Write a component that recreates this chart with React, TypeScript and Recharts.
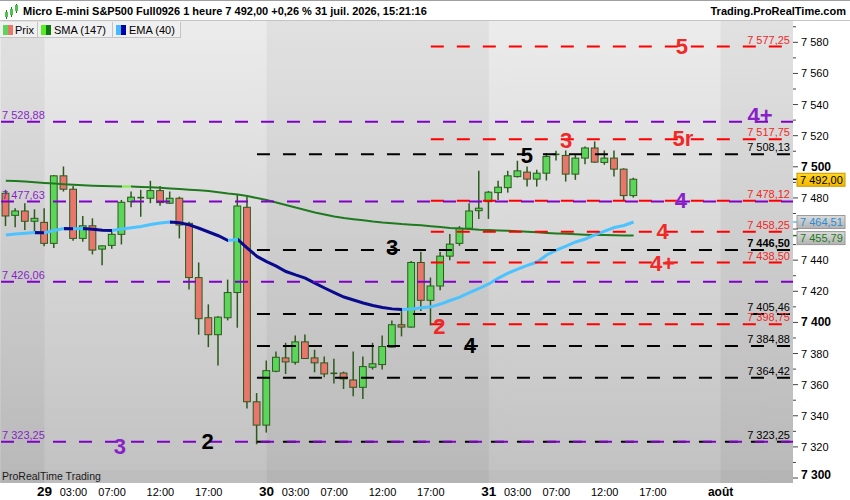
import React from 'react';
import {
  ComposedChart,
  Bar,
  Line,
  XAxis,
  YAxis,
  ReferenceLine,
  ReferenceArea,
  ReferenceDot,
} from 'recharts';

const FONT = '"Liberation Sans", Arial, Helvetica, sans-serif';

// ---- hourly candles (28 juil. 19:00 -> 31 juil. 15:00) ----
const opens = [
  7483.0, 7468.8, 7471.6, 7465.0, 7464.3, 7450.8, 7494.2, 7485.6, 7454.0, 7462.1,
  7447.1, 7449.5, 7456.6, 7477.6, 7480.2, 7479.8, 7484.7, 7476.6, 7479.8, 7463.7,
  7428.8, 7403.0, 7392.1, 7403.0, 7419.2, 7474.0, 7349.0, 7334.0, 7368.6, 7377.2,
  7374.4, 7387.5, 7377.2, 7374.0, 7367.3, 7367.5, 7363.0, 7358.3, 7371.2, 7372.9,
  7384.1, 7398.5, 7397.0, 7438.5, 7414.2, 7423.4, 7442.6, 7450.8, 7460.5, 7471.8,
  7477.6, 7483.4, 7486.6, 7493.7, 7496.6, 7492.1, 7495.9, 7508.0, 7507.3, 7495.3,
  7505.6, 7512.1, 7502.8, 7505.6, 7498.5, 7481.5,
];
const highs = [
  7485.2, 7473.4, 7476.6, 7472.7, 7473.4, 7494.8, 7500.2, 7487.7, 7468.4, 7466.9,
  7449.5, 7459.4, 7478.7, 7484.1, 7485.2, 7491.0, 7487.7, 7484.1, 7480.8, 7464.7,
  7438.5, 7411.6, 7403.9, 7427.5, 7482.4, 7480.8, 7354.6, 7375.5, 7381.3, 7386.9,
  7391.6, 7392.3, 7382.4, 7378.1, 7376.6, 7368.4, 7381.3, 7378.1, 7386.9, 7391.6,
  7401.3, 7407.3, 7439.4, 7445.4, 7428.8, 7445.4, 7456.8, 7461.9, 7476.6, 7497.4,
  7484.5, 7491.0, 7497.4, 7503.9, 7500.2, 7498.1, 7508.8, 7510.3, 7510.5, 7508.2,
  7513.1, 7516.3, 7510.5, 7510.5, 7499.0, 7493.0,
];
const lows = [
  7461.9, 7461.1, 7459.4, 7457.6, 7449.0, 7447.9, 7484.1, 7452.5, 7451.8, 7443.7,
  7436.8, 7447.3, 7450.1, 7474.0, 7467.9, 7476.6, 7475.0, 7476.1, 7454.0, 7421.1,
  7392.1, 7384.1, 7372.3, 7401.3, 7396.6, 7344.7, 7321.7, 7329.2, 7367.9, 7366.9,
  7372.9, 7376.6, 7367.9, 7364.7, 7360.8, 7357.2, 7352.5, 7350.8, 7369.7, 7369.7,
  7383.7, 7391.0, 7396.6, 7407.3, 7398.1, 7420.6, 7440.0, 7449.2, 7459.4, 7466.5,
  7466.5, 7478.7, 7483.4, 7493.1, 7487.3, 7487.3, 7491.2, 7504.1, 7490.5, 7491.6,
  7501.7, 7502.5, 7501.3, 7493.7, 7478.1, 7480.2,
];
const closes = [
  7468.4, 7471.6, 7465.0, 7466.9, 7450.8, 7494.2, 7485.6, 7454.0, 7462.1, 7446.5,
  7449.2, 7456.6, 7477.2, 7480.5, 7480.2, 7484.7, 7477.0, 7479.8, 7462.6, 7428.8,
  7402.4, 7392.1, 7403.4, 7419.2, 7474.8, 7349.0, 7334.0, 7369.0, 7377.6, 7374.6,
  7387.5, 7376.8, 7374.0, 7366.9, 7367.3, 7363.7, 7358.3, 7371.6, 7373.4, 7384.5,
  7398.5, 7397.0, 7438.5, 7414.2, 7423.4, 7442.6, 7450.3, 7460.5, 7471.6, 7473.4,
  7483.7, 7486.9, 7494.2, 7497.4, 7492.1, 7495.9, 7506.6, 7508.0, 7495.3, 7505.6,
  7512.1, 7503.0, 7505.6, 7498.5, 7481.5, 7492.0,
];

// ---- indicators ----
const ema40 = [
  7456.2, 7456.8, 7457.3, 7457.8, 7457.6, 7459.1, 7460.4, 7460.2, 7460.3, 7459.8,
  7459.2, 7459.0, 7460.0, 7460.8, 7461.7, 7462.9, 7463.9, 7464.6, 7464.1, 7462.7,
  7460.5, 7458.1, 7455.7, 7452.6, 7453.4, 7447.8, 7442.4, 7439.1, 7436.2, 7432.7,
  7430.5, 7428.5, 7425.3, 7422.1, 7419.2, 7416.3, 7414.4, 7412.5, 7410.9, 7409.6,
  7408.7, 7408.3, 7408.6, 7409.4, 7410.0, 7411.8, 7414.1, 7416.3, 7419.2, 7421.8,
  7424.7, 7428.5, 7431.7, 7434.3, 7436.6, 7438.8, 7443.3, 7446.5, 7449.1, 7451.7,
  7453.6, 7456.2, 7458.7, 7461.0, 7462.3, 7464.51,
];
const sma147 = [
  7491.1, 7490.9, 7490.6, 7490.1, 7489.6, 7489.2, 7488.8, 7488.4, 7488.1, 7487.9,
  7487.7, 7487.5, 7487.3, 7487.4, 7487.1, 7486.8, 7486.5, 7486.1, 7485.7, 7485.3,
  7485.0, 7484.4, 7483.7, 7482.8, 7482.2, 7481.2, 7479.9, 7478.7, 7477.1, 7475.4,
  7473.8, 7472.2, 7470.6, 7469.3, 7468.1, 7467.1, 7466.3, 7465.6, 7464.8, 7464.2,
  7463.8, 7463.2, 7462.8, 7462.4, 7461.8, 7461.3, 7460.7, 7460.3, 7460.0, 7459.6,
  7459.4, 7459.1, 7458.9, 7458.6, 7458.2, 7457.9, 7457.5, 7457.2, 7456.9, 7456.6,
  7456.4, 7456.2, 7456.1, 7456.0, 7455.9, 7455.79,
];

const SLOTS = 82;

// ---- axis ticks ----
const xTickIdx = [4, 7, 11, 16, 21, 27, 30, 34, 39, 44, 50, 53, 57, 62, 67, 74];
const xTickLabels = [
  '29', '03:00', '07:00', '12:00', '17:00',
  '30', '03:00', '07:00', '12:00', '17:00',
  '31', '03:00', '07:00', '12:00', '17:00',
  'août',
];
const xTickBold = [true, false, false, false, false, true, false, false, false, false, true, false, false, false, false, true];
const yTicks = [
  7300, 7310, 7320, 7330, 7340, 7350, 7360, 7370, 7380, 7390,
  7400, 7410, 7420, 7430, 7440, 7450, 7460, 7470, 7480, 7490,
  7500, 7510, 7520, 7530, 7540, 7550, 7560, 7570, 7580, 7590,
];
// axis labels covered by the price tags in the original
const yHiddenLabels = [7460];

// ---- day bands (darker sessions) ----
const darkBandStart = [-0.5, 27, 74];
const darkBandEnd = [4, 50, 81.5];

// ---- horizontal levels ----
const purpleLevels = [7528.88, 7477.63, 7426.06, 7323.25];
const blackLevels = [7508.13, 7446.5, 7405.46, 7384.88, 7364.42, 7323.25];
const redLevels = [7577.25, 7517.75, 7478.12, 7458.25, 7438.5, 7398.75];
const purpleStart = -0.5;
const blackStart = 26;
const redStart = 44;
const levelEnd = 81.5;

// ---- annotations ----
const markerText = ['5', '4+', '5r', '3', '5', '4', '4', '3', '4+', '2', '4', '2', '3'];
const markerX = [70, 78.1, 70.1, 58, 53.95, 69.9, 68, 40, 68, 44.9, 48.05, 20.9, 11.8];
const markerY = [7577.6, 7533.0, 7518.5, 7517.2, 7507.6, 7478.7, 7458.7, 7448.5, 7438.2, 7397.7, 7385.5, 7323.8, 7320.6];
const markerKind = ['r', 'p', 'r', 'r', 'k', 'p', 'r', 'k', 'r', 'r', 'k', 'k', 'p'];

const lastPrice = 7492.0;
const lastEma = 7464.51;
const lastSma = 7455.79;

// ---- styles ----
const C_GREEN = '#5bd65b';
const C_RED = '#e8766c';
const C_EDGE = '#2c5a1c';
const C_PURPLE = '#8000c8';
const C_RED_LINE = '#ff0000';
const C_RED_TEXT = '#f02828';
const C_PURPLE_TEXT = '#8a1ec8';
const EMA_UP = '#4cc2ff';
const EMA_DN = '#0a0a8c';
const SMA_UP = '#7cf040';
const SMA_DN = '#1f7a1f';

const markerColor = (k: string) => (k === 'r' ? C_RED_TEXT : k === 'p' ? C_PURPLE_TEXT : '#000');

const fmt = (v: number, d: number) => {
  const s = v.toFixed(d);
  const parts = s.split('.');
  const intS = parts[0].replace(/\B(?=(\d{3})+(?!\d))/g, ' ');
  return parts[1] ? intS + ',' + parts[1] : intS;
};

const rows = Array.from({ length: SLOTS }, (_, i) =>
  i < opens.length
    ? {
        i,
        range: [lows[i], highs[i]],
        o: opens[i],
        h: highs[i],
        l: lows[i],
        c: closes[i],
        ema: ema40[i],
        sma: sma147[i],
      }
    : { i, range: null, ema: null, sma: null }
);

const segStops = (vals: number[], up: string, dn: string, id: string) => {
  const n = vals.length - 1;
  const out: any[] = [];
  for (let k = 0; k < n; k++) {
    const col = vals[k + 1] >= vals[k] ? up : dn;
    out.push(<stop key={id + 'a' + k} offset={k / n} stopColor={col} />);
    out.push(<stop key={id + 'b' + k} offset={(k + 1) / n} stopColor={col} />);
  }
  return out;
};

const Candle = (props: any) => {
  const { x, y, width, height, payload } = props;
  if (!payload || payload.h == null) return null;
  const { o, h, l, c } = payload;
  const top = Math.min(y, y + height);
  const hh = Math.abs(height);
  const py = (v: number) => (h === l ? top : top + ((h - v) / (h - l)) * hh);
  const cx = x + width / 2;
  const up = c >= o;
  const bt = py(Math.max(o, c));
  const bb = py(Math.min(o, c));
  const bw = 6.8;
  return (
    <g>
      <line x1={cx} x2={cx} y1={top} y2={top + hh} stroke={C_EDGE} strokeWidth={1.5} />
      {bb - bt < 1.2 ? (
        <line x1={cx - bw / 2} x2={cx + bw / 2} y1={bt} y2={bt} stroke={C_EDGE} strokeWidth={1.6} />
      ) : (
        <rect
          x={cx - bw / 2}
          y={bt}
          width={bw}
          height={bb - bt}
          fill={up ? C_GREEN : C_RED}
          stroke={C_EDGE}
          strokeWidth={1}
        />
      )}
    </g>
  );
};

const XTick = (props: any) => {
  const { x, payload } = props;
  const k = xTickIdx.indexOf(payload.value);
  if (k < 0) return null;
  const label = xTickLabels[k];
  const bold = xTickBold[k];
  const size = bold ? (label === 'août' ? 12 : 13.5) : 11;
  return (
    <text
      x={x}
      y={496}
      textAnchor="middle"
      fontFamily={FONT}
      fontSize={size}
      fontWeight={bold ? 'bold' : 'normal'}
      fill="#000"
    >
      {label}
    </text>
  );
};

const YTick = (props: any) => {
  const { x, y, payload } = props;
  const v = payload.value;
  const major = v % 20 === 0;
  const bold = v % 100 === 0;
  const ty = Math.min(y + 4, 479);
  const showLabel = major && yHiddenLabels.indexOf(v) < 0;
  return (
    <g>
      <line x1={x} x2={x + (major ? 5 : 3)} y1={y} y2={y} stroke="#444" strokeWidth={1} />
      {showLabel && (
        <text
          x={x + 8}
          y={ty}
          fontFamily={FONT}
          fontSize={bold ? 12 : 11}
          fontWeight={bold ? 'bold' : 'normal'}
          fill="#000"
        >
          {fmt(v, 0)}
        </text>
      )}
    </g>
  );
};

const rightLabel = (text: string, color: string, bold: boolean) => (p: any) => (
  <text
    x={p.cx - 3}
    y={p.cy - 3}
    textAnchor="end"
    fontFamily={FONT}
    fontSize={11}
    fontWeight={bold ? 'bold' : 'normal'}
    fill={color}
  >
    {text}
  </text>
);

const leftLabel = (text: string) => (p: any) => (
  <text x={p.cx + 1} y={p.cy - 3} textAnchor="start" fontFamily={FONT} fontSize={11} fill={C_PURPLE_TEXT}>
    {text}
  </text>
);

const markerShape = (text: string, color: string) => (p: any) => (
  <text
    x={p.cx}
    y={p.cy + 8}
    textAnchor="middle"
    fontFamily={FONT}
    fontSize={22}
    fontWeight="bold"
    fill={color}
  >
    {text}
  </text>
);

const tagShape = (text: string, fill: string, border: string, color: string, tick: string, dy: number) => (p: any) => (
  <g>
    <line x1={p.cx} x2={p.cx + 4} y1={p.cy} y2={p.cy} stroke={tick} strokeWidth={1.5} />
    <rect x={p.cx + 4} y={p.cy - 6.5 + dy} width={48} height={13} fill={fill} stroke={border} strokeWidth={1} />
    <text x={p.cx + 7} y={p.cy + 4 + dy} fontFamily={FONT} fontSize={11} fill={color}>
      {text}
    </text>
  </g>
);

export default function App() {
  const legendBox = (left: number, width: number): React.CSSProperties => ({
    position: 'absolute',
    left,
    top: 22,
    width,
    height: 16,
    background: '#f0f0f0',
    borderRight: '1px solid #c4c4c4',
    borderBottom: '1px solid #c4c4c4',
    boxSizing: 'border-box',
  });
  const legendText: React.CSSProperties = {
    position: 'absolute',
    top: 2,
    fontFamily: FONT,
    fontSize: 11,
    color: '#000',
    lineHeight: '12px',
    whiteSpace: 'nowrap',
  };

  return (
    <div
      style={{
        position: 'absolute',
        left: 0,
        top: 0,
        width: 850,
        height: 500,
        background: '#fff',
        overflow: 'hidden',
        fontFamily: FONT,
      }}
    >
      <svg width={0} height={0} style={{ position: 'absolute' }}>
        <defs>
          <linearGradient id="emaGrad" x1="0" y1="0" x2="1" y2="0">
            {segStops(ema40, EMA_UP, EMA_DN, 'e')}
          </linearGradient>
          <linearGradient id="smaGrad" x1="0" y1="0" x2="1" y2="0">
            {segStops(sma147, SMA_UP, SMA_DN, 's')}
          </linearGradient>
          <linearGradient id="tagGray" x1="0" y1="0" x2="0" y2="1">
            <stop offset="0" stopColor="#dcdcdc" />
            <stop offset="1" stopColor="#b2b2b2" />
          </linearGradient>
          <linearGradient id="tagGold" x1="0" y1="0" x2="0" y2="1">
            <stop offset="0" stopColor="#ffd820" />
            <stop offset="1" stopColor="#f4b800" />
          </linearGradient>
        </defs>
      </svg>

      {/* plot background */}
      <div
        style={{
          position: 'absolute',
          left: 0,
          top: 21,
          width: 793,
          height: 462,
          background: 'linear-gradient(#ececec, #c1c1c1)',
        }}
      />

      <div style={{ position: 'absolute', left: 0, top: 0 }}>
        <ComposedChart width={850} height={500} data={rows} margin={{ top: 21, right: 0, bottom: 0, left: 1 }}>
          <XAxis
            xAxisId="cat"
            dataKey="i"
            type="category"
            ticks={xTickIdx}
            interval={0}
            tick={<XTick />}
            tickSize={0}
            tickMargin={0}
            axisLine={false}
            tickLine={false}
            height={17}
          />
          <XAxis
            xAxisId="num"
            dataKey="i"
            type="number"
            domain={[-0.5, 81.5]}
            allowDataOverflow
            hide
          />
          <YAxis
            yAxisId="p"
            orientation="right"
            type="number"
            domain={[7296.8, 7593.7]}
            allowDataOverflow
            ticks={yTicks}
            interval={0}
            width={57}
            tick={<YTick />}
            tickSize={0}
            tickMargin={0}
            axisLine={false}
            tickLine={false}
          />

          {darkBandStart.map((s, k) => (
            <ReferenceArea
              key={'band' + k}
              xAxisId="num"
              yAxisId="p"
              x1={s}
              x2={darkBandEnd[k]}
              fill="#000"
              fillOpacity={0.045}
              stroke="none"
              ifOverflow="visible"
            />
          ))}

          <Bar
            xAxisId="cat"
            yAxisId="p"
            dataKey="range"
            barSize={7}
            shape={<Candle />}
            isAnimationActive={false}
          />

          <Line
            xAxisId="cat"
            yAxisId="p"
            dataKey="sma"
            type="linear"
            stroke="url(#smaGrad)"
            strokeWidth={2}
            dot={false}
            activeDot={false}
            isAnimationActive={false}
          />
          <Line
            xAxisId="cat"
            yAxisId="p"
            dataKey="ema"
            type="linear"
            stroke="url(#emaGrad)"
            strokeWidth={3}
            dot={false}
            activeDot={false}
            isAnimationActive={false}
          />

          {redLevels.map((v, k) => (
            <ReferenceLine
              key={'rl' + k}
              xAxisId="num"
              yAxisId="p"
              segment={[
                { x: redStart, y: v },
                { x: levelEnd, y: v },
              ]}
              stroke={C_RED_LINE}
              strokeWidth={2}
              strokeDasharray="13 13"
              ifOverflow="visible"
            />
          ))}
          {blackLevels.map((v, k) => (
            <ReferenceLine
              key={'bl' + k}
              xAxisId="num"
              yAxisId="p"
              segment={[
                { x: blackStart, y: v },
                { x: levelEnd, y: v },
              ]}
              stroke="#000"
              strokeWidth={2}
              strokeDasharray="13 13"
              ifOverflow="visible"
            />
          ))}
          {purpleLevels.map((v, k) => (
            <ReferenceLine
              key={'pl' + k}
              xAxisId="num"
              yAxisId="p"
              segment={[
                { x: purpleStart, y: v },
                { x: levelEnd, y: v },
              ]}
              stroke={C_PURPLE}
              strokeWidth={2}
              strokeDasharray="13 13"
              ifOverflow="visible"
            />
          ))}

          {blackLevels.map((v, k) => (
            <ReferenceDot
              key={'blab' + k}
              xAxisId="num"
              yAxisId="p"
              x={levelEnd}
              y={v}
              r={0}
              ifOverflow="visible"
              shape={rightLabel(fmt(v, 2), '#000', v === 7446.5)}
            />
          ))}
          {redLevels.map((v, k) => (
            <ReferenceDot
              key={'rlab' + k}
              xAxisId="num"
              yAxisId="p"
              x={levelEnd}
              y={v}
              r={0}
              ifOverflow="visible"
              shape={rightLabel(fmt(v, 2), C_RED_TEXT, false)}
            />
          ))}
          {purpleLevels.map((v, k) => (
            <ReferenceDot
              key={'plab' + k}
              xAxisId="num"
              yAxisId="p"
              x={purpleStart}
              y={v}
              r={0}
              ifOverflow="visible"
              shape={leftLabel(fmt(v, 2))}
            />
          ))}

          {markerText.map((t, k) => (
            <ReferenceDot
              key={'mk' + k}
              xAxisId="num"
              yAxisId="p"
              x={markerX[k]}
              y={markerY[k]}
              r={0}
              ifOverflow="visible"
              shape={markerShape(t, markerColor(markerKind[k]))}
            />
          ))}

          <ReferenceDot
            xAxisId="num"
            yAxisId="p"
            x={levelEnd}
            y={lastPrice}
            r={0}
            ifOverflow="visible"
            shape={tagShape(fmt(lastPrice, 2), 'url(#tagGold)', '#c89400', '#000', '#000', 0.5)}
          />
          <ReferenceDot
            xAxisId="num"
            yAxisId="p"
            x={levelEnd}
            y={lastEma}
            r={0}
            ifOverflow="visible"
            shape={tagShape(fmt(lastEma, 2), 'url(#tagGray)', '#9a9a9a', '#2a8cd2', EMA_UP, 0)}
          />
          <ReferenceDot
            xAxisId="num"
            yAxisId="p"
            x={levelEnd}
            y={lastSma}
            r={0}
            ifOverflow="visible"
            shape={tagShape(fmt(lastSma, 2), 'url(#tagGray)', '#9a9a9a', '#1a7a1a', SMA_DN, 2.5)}
          />
        </ComposedChart>
      </div>

      {/* header */}
      <div
        style={{
          position: 'absolute',
          left: 0,
          top: 0,
          width: 850,
          height: 21,
          background: '#fff',
          borderTop: '1px solid #a0a0a0',
          borderBottom: '1px solid #c4c4c4',
          boxSizing: 'border-box',
        }}
      >
        <svg width={20} height={20} style={{ position: 'absolute', left: 0, top: 0 }}>
          <line x1={6.5} x2={6.5} y1={9} y2={18} stroke="#2c6a1c" strokeWidth={1} />
          <rect x={5} y={11} width={3} height={5} fill="#4cc44c" />
          <line x1={11.5} x2={11.5} y1={6} y2={16} stroke="#2c6a1c" strokeWidth={1} />
          <rect x={10} y={8} width={3} height={6} fill="#4cc44c" />
          <line x1={16.5} x2={16.5} y1={3} y2={12} stroke="#2c6a1c" strokeWidth={1} />
          <rect x={15} y={4} width={3} height={6} fill="#4cc44c" />
        </svg>
        <div
          style={{
            position: 'absolute',
            left: 23,
            top: 4,
            fontFamily: FONT,
            fontSize: 11,
            fontWeight: 'bold',
            color: '#000',
            lineHeight: '13px',
            whiteSpace: 'nowrap',
          }}
        >
          Micro E-mini S&amp;P500 Full0926 1 heure 7 492,00 +0,26 % 31 juil. 2026, 15:21:16
        </div>
        <div
          style={{
            position: 'absolute',
            right: 4,
            top: 4,
            fontFamily: FONT,
            fontSize: 11,
            fontWeight: 'bold',
            color: '#000',
            lineHeight: '13px',
            whiteSpace: 'nowrap',
          }}
        >
          Trading.ProRealTime.com
        </div>
      </div>

      {/* legend */}
      <div style={legendBox(0, 38)}>
        <div style={{ position: 'absolute', left: 3, top: 3, width: 5, height: 10, background: C_GREEN }} />
        <div style={{ position: 'absolute', left: 8, top: 3, width: 5, height: 10, background: C_RED }} />
        <div style={{ ...legendText, left: 15 }}>Prix</div>
      </div>
      <div style={legendBox(38, 75)}>
        <div style={{ position: 'absolute', left: 3, top: 3, width: 5, height: 10, background: '#55ee22' }} />
        <div style={{ position: 'absolute', left: 8, top: 3, width: 5, height: 10, background: '#117711' }} />
        <div style={{ ...legendText, left: 16 }}>SMA (147)</div>
      </div>
      <div style={legendBox(113, 68)}>
        <div style={{ position: 'absolute', left: 3, top: 3, width: 5, height: 10, background: '#44bbff' }} />
        <div style={{ position: 'absolute', left: 8, top: 3, width: 5, height: 10, background: '#0000aa' }} />
        <div style={{ ...legendText, left: 16 }}>EMA (40)</div>
      </div>

      {/* bottom strip */}
      <div
        style={{
          position: 'absolute',
          left: 0,
          top: 470,
          width: 793,
          height: 13,
          background: 'rgba(0,0,0,0.02)',
        }}
      >
        <div
          style={{
            position: 'absolute',
            left: 2,
            top: 1,
            fontFamily: FONT,
            fontSize: 10.5,
            color: '#1a1a1a',
            lineHeight: '11px',
            whiteSpace: 'nowrap',
          }}
        >
          ProRealTime Trading
        </div>
      </div>
    </div>
  );
}
